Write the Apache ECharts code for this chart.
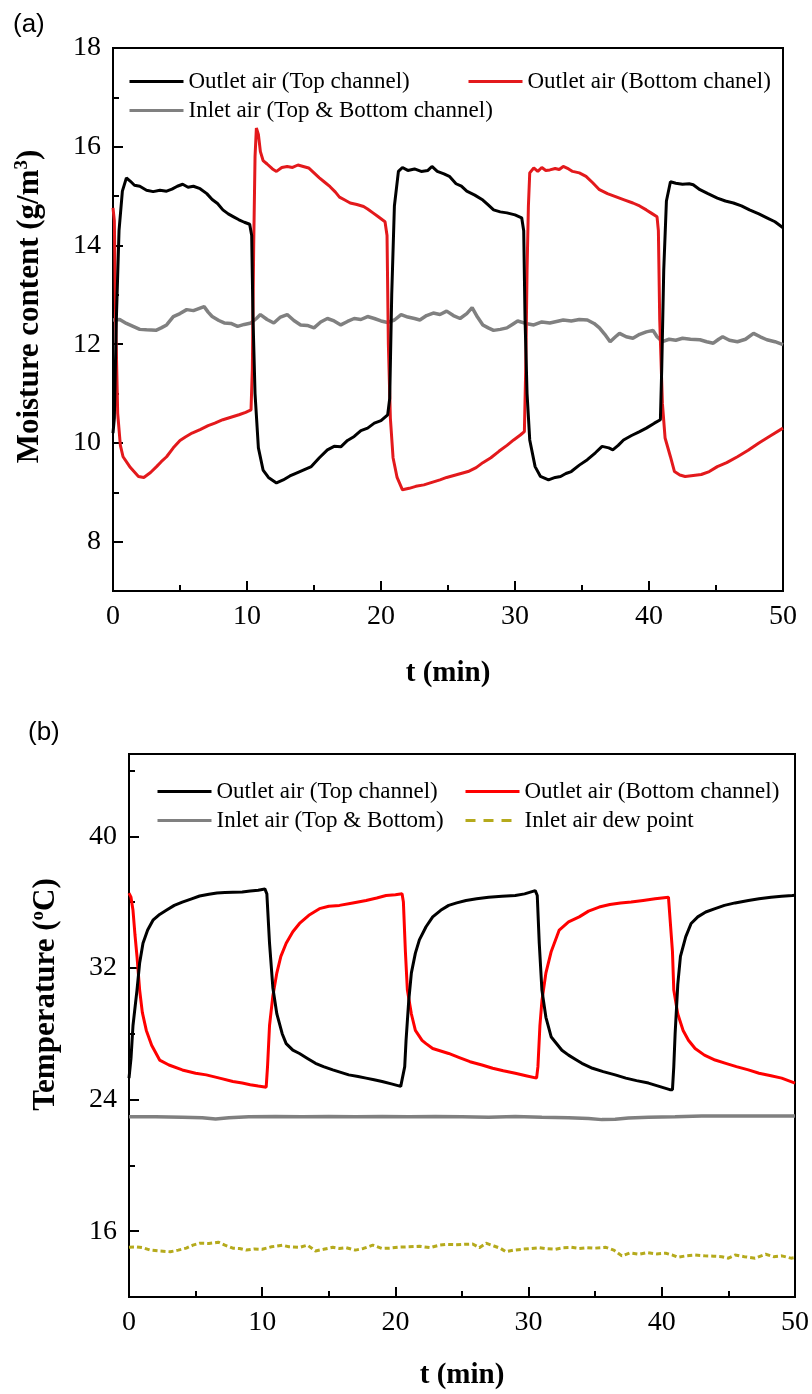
<!DOCTYPE html>
<html>
<head>
<meta charset="utf-8">
<title>Moisture content and temperature</title>
<script src="https://cdn.jsdelivr.net/npm/echarts@6/dist/echarts.min.js"></script>
<style>
  html, body { margin: 0; padding: 0; background: #fff; }
  #container { width: 812px; height: 1394px; }
</style>
</head>
<body>
<div id="container"></div>
<script>
//数据 (t in min, value)
//(a) moisture content, g/m3
var moistTop = [[0,10.2],[0.1,10.5],[0.25,12.5],[0.45,14.3],[0.7,15.1],[1.0,15.37],[1.3,15.3],[1.6,15.22],[2.0,15.2],[2.5,15.12],[3.0,15.09],[3.5,15.12],[4.0,15.1],[4.4,15.14],[4.8,15.2],[5.2,15.24],[5.6,15.18],[6.0,15.2],[6.5,15.15],[7.0,15.05],[7.4,14.93],[7.8,14.85],[8.2,14.72],[8.6,14.64],[9.0,14.58],[9.4,14.52],[9.8,14.47],[10.2,14.43],[10.35,14.2],[10.45,12.5],[10.6,11.0],[10.85,9.9],[11.2,9.45],[11.6,9.3],[12.2,9.19],[12.7,9.25],[13.2,9.33],[13.6,9.38],[14.2,9.45],[14.8,9.52],[15.4,9.7],[16.0,9.86],[16.5,9.93],[17.0,9.92],[17.5,10.05],[18.0,10.13],[18.5,10.25],[19.0,10.3],[19.5,10.4],[20.0,10.45],[20.5,10.57],[20.65,10.9],[20.8,13.0],[21.0,14.8],[21.3,15.5],[21.6,15.58],[22.0,15.52],[22.5,15.55],[23.0,15.5],[23.5,15.52],[23.8,15.6],[24.2,15.5],[24.7,15.45],[25.1,15.4],[25.6,15.25],[26.0,15.2],[26.4,15.1],[27.0,15.02],[27.6,14.92],[28.0,14.82],[28.4,14.72],[28.9,14.68],[29.4,14.66],[30.0,14.62],[30.5,14.56],[30.65,14.3],[30.75,12.5],[30.9,11.0],[31.1,10.06],[31.5,9.52],[31.9,9.32],[32.5,9.25],[33.0,9.3],[33.4,9.32],[33.8,9.38],[34.2,9.42],[34.8,9.55],[35.4,9.66],[36.0,9.8],[36.5,9.93],[37.0,9.9],[37.3,9.86],[37.7,9.95],[38.1,10.06],[38.7,10.15],[39.3,10.23],[39.8,10.3],[40.4,10.4],[40.85,10.47],[40.95,11.5],[41.1,13.5],[41.3,14.9],[41.6,15.29],[42.0,15.26],[42.5,15.24],[43.0,15.25],[43.3,15.23],[43.8,15.13],[44.4,15.05],[45.1,14.96],[45.7,14.9],[46.3,14.86],[46.9,14.8],[47.5,14.72],[48.2,14.64],[48.8,14.56],[49.4,14.48],[50.0,14.36]];
var moistBottom = [[0,14.76],[0.1,14.5],[0.2,12.5],[0.35,10.6],[0.55,9.95],[0.75,9.72],[1.3,9.5],[1.9,9.32],[2.3,9.3],[2.8,9.4],[3.25,9.52],[3.6,9.62],[4.0,9.72],[4.5,9.9],[5.0,10.05],[5.4,10.12],[5.9,10.2],[6.5,10.27],[7.1,10.35],[7.6,10.4],[8.2,10.47],[8.8,10.52],[9.4,10.57],[9.9,10.62],[10.3,10.67],[10.4,11.5],[10.5,14.0],[10.6,15.8],[10.7,16.38],[10.85,16.25],[11.0,15.9],[11.2,15.72],[11.5,15.65],[11.9,15.55],[12.2,15.5],[12.6,15.58],[13.0,15.6],[13.4,15.58],[13.8,15.63],[14.2,15.6],[14.6,15.57],[15.0,15.47],[15.4,15.37],[15.8,15.28],[16.2,15.19],[16.6,15.08],[16.9,14.98],[17.3,14.92],[17.7,14.86],[18.2,14.83],[18.7,14.79],[19.0,14.74],[19.4,14.66],[19.8,14.58],[20.3,14.48],[20.45,14.2],[20.55,12.0],[20.7,10.5],[20.9,9.7],[21.2,9.3],[21.6,9.05],[22.1,9.08],[22.6,9.12],[23.2,9.15],[23.8,9.2],[24.4,9.25],[24.9,9.3],[25.7,9.36],[26.5,9.42],[27.1,9.5],[27.6,9.6],[28.2,9.7],[28.8,9.83],[29.4,9.95],[29.9,10.06],[30.4,10.16],[30.7,10.23],[30.8,11.5],[30.9,13.5],[31.0,14.8],[31.1,15.47],[31.4,15.57],[31.7,15.5],[32.0,15.58],[32.3,15.52],[32.6,15.53],[33.0,15.56],[33.3,15.54],[33.6,15.6],[34.0,15.55],[34.3,15.5],[34.8,15.47],[35.3,15.4],[35.8,15.27],[36.3,15.13],[36.9,15.05],[37.6,14.98],[38.2,14.92],[38.8,14.86],[39.3,14.8],[39.8,14.72],[40.2,14.65],[40.6,14.58],[40.7,14.3],[40.8,12.5],[41.0,10.8],[41.2,10.1],[41.6,9.72],[41.9,9.42],[42.3,9.35],[42.7,9.32],[43.3,9.34],[43.9,9.36],[44.5,9.42],[45.1,9.52],[45.8,9.6],[46.6,9.72],[47.4,9.85],[48.2,10.0],[49.1,10.15],[50,10.3]];
var moistInlet = [[0,12.49],[0.5,12.5],[1.0,12.42],[1.5,12.36],[2.0,12.3],[2.5,12.29],[3.2,12.28],[3.6,12.33],[4.0,12.39],[4.5,12.56],[5.0,12.62],[5.5,12.7],[6.0,12.68],[6.4,12.72],[6.8,12.76],[7.1,12.65],[7.4,12.56],[7.9,12.48],[8.3,12.43],[8.8,12.42],[9.3,12.36],[9.8,12.4],[10.3,12.43],[10.7,12.52],[11.0,12.6],[11.5,12.5],[12.0,12.43],[12.5,12.55],[13.0,12.6],[13.5,12.48],[14.0,12.39],[14.5,12.38],[15.0,12.33],[15.5,12.45],[16.0,12.52],[16.5,12.47],[17.0,12.39],[17.5,12.46],[18.0,12.52],[18.5,12.5],[19.0,12.56],[19.5,12.52],[20.0,12.47],[20.5,12.44],[21.0,12.49],[21.5,12.6],[22.0,12.55],[22.5,12.52],[22.9,12.49],[23.4,12.58],[23.9,12.63],[24.4,12.6],[24.9,12.67],[25.4,12.58],[25.9,12.52],[26.4,12.62],[26.8,12.74],[27.2,12.55],[27.6,12.39],[28.0,12.33],[28.4,12.28],[28.9,12.3],[29.4,12.33],[29.8,12.4],[30.2,12.47],[30.8,12.42],[31.4,12.39],[32.0,12.45],[32.6,12.43],[33.1,12.46],[33.6,12.49],[34.2,12.47],[34.8,12.5],[35.4,12.49],[35.9,12.42],[36.3,12.33],[36.7,12.2],[37.1,12.05],[37.5,12.15],[37.8,12.22],[38.3,12.15],[38.8,12.12],[39.3,12.2],[39.8,12.25],[40.3,12.28],[40.6,12.15],[41.0,12.05],[41.5,12.1],[42.0,12.08],[42.5,12.12],[43.1,12.1],[43.8,12.09],[44.3,12.05],[44.8,12.02],[45.2,12.1],[45.5,12.15],[46.0,12.08],[46.6,12.05],[47.2,12.1],[47.8,12.22],[48.3,12.15],[48.8,12.09],[49.4,12.05],[50,11.99]];

//(b) temperature, oC
var tempTop = [[0,25.3],[0.15,26.5],[0.3,28.5],[0.6,30.65],[0.8,32.3],[1.05,33.5],[1.4,34.3],[1.8,34.9],[2.3,35.25],[2.8,35.5],[3.4,35.8],[4.0,36.0],[4.7,36.2],[5.3,36.37],[6.0,36.48],[6.6,36.55],[7.2,36.58],[7.8,36.6],[8.5,36.62],[9.1,36.67],[9.7,36.72],[10.2,36.8],[10.35,36.5],[10.55,33.5],[10.8,30.8],[11.1,29.2],[11.5,28.0],[11.8,27.4],[12.3,27.0],[12.8,26.8],[13.4,26.5],[14.0,26.2],[14.6,26.0],[15.3,25.8],[15.9,25.65],[16.5,25.5],[17.2,25.4],[17.8,25.3],[18.4,25.2],[19.0,25.1],[19.7,24.95],[20.4,24.8],[20.55,24.8],[20.7,26.0],[20.8,27.6],[21.0,30.0],[21.2,31.7],[21.5,32.9],[21.8,33.7],[22.3,34.5],[22.8,35.1],[23.4,35.5],[24.0,35.8],[24.6,35.95],[25.3,36.1],[26.1,36.2],[27.0,36.3],[28.0,36.35],[29.0,36.4],[29.7,36.5],[30.5,36.7],[30.65,36.4],[30.8,33.5],[31.0,30.65],[31.3,29.0],[31.7,27.8],[32.0,27.5],[32.5,27.0],[33.0,26.7],[33.5,26.45],[34.0,26.2],[34.8,25.9],[35.6,25.7],[36.5,25.5],[37.3,25.3],[38.1,25.15],[39.0,25.0],[39.8,24.8],[40.6,24.6],[40.8,24.6],[40.9,26.0],[41.0,28.0],[41.2,31.0],[41.4,32.7],[41.8,33.9],[42.2,34.7],[42.7,35.1],[43.3,35.4],[44.0,35.6],[44.7,35.8],[45.5,35.95],[46.5,36.1],[47.3,36.2],[48.2,36.3],[49.0,36.35],[49.8,36.4],[50,36.42]];
var tempBottom = [[0,36.55],[0.15,36.3],[0.3,35.5],[0.45,34.0],[0.6,32.7],[0.8,30.65],[1.0,29.3],[1.3,28.2],[1.7,27.3],[2.3,26.4],[3.0,26.1],[4.0,25.8],[5.0,25.6],[5.8,25.5],[6.8,25.3],[7.8,25.1],[8.5,25.0],[9.1,24.9],[9.7,24.82],[10.3,24.75],[10.4,26.0],[10.55,28.5],[10.8,30.3],[11.1,31.7],[11.4,32.7],[11.8,33.5],[12.3,34.2],[12.8,34.7],[13.5,35.2],[14.3,35.6],[15.0,35.75],[15.8,35.8],[16.8,35.95],[17.8,36.1],[18.6,36.25],[19.3,36.4],[20.0,36.45],[20.5,36.5],[20.6,36.0],[20.75,33.0],[20.9,30.65],[21.2,29.2],[21.5,28.2],[22.0,27.6],[22.3,27.4],[22.8,27.1],[23.4,26.95],[24.0,26.8],[24.8,26.55],[25.6,26.3],[26.5,26.1],[27.3,25.9],[28.1,25.75],[29.0,25.6],[29.8,25.45],[30.6,25.3],[30.7,26.0],[30.85,28.5],[31.0,30.0],[31.3,31.7],[31.7,33.0],[32.3,34.3],[33.0,34.8],[33.8,35.1],[34.5,35.45],[35.3,35.7],[36.1,35.85],[36.9,35.95],[37.7,36.0],[38.6,36.1],[39.5,36.2],[40.5,36.3],[40.65,36.2],[40.8,33.0],[40.9,30.65],[41.2,29.2],[41.6,28.2],[42.0,27.6],[42.5,27.1],[43.2,26.7],[44.0,26.4],[44.8,26.2],[45.6,26.0],[46.5,25.8],[47.3,25.6],[48.2,25.45],[49.0,25.3],[49.5,25.15],[50,25.0]];
var tempInlet = [[0,22.95],[2,22.95],[4,22.93],[5.5,22.9],[6.5,22.82],[7.5,22.9],[9,22.95],[11,22.97],[13,22.95],[15,22.97],[17,22.95],[19,22.97],[21,22.95],[23,22.97],[25,22.95],[27,22.93],[29,22.97],[31,22.93],[33,22.9],[34.5,22.85],[35.5,22.78],[36.5,22.8],[37.5,22.88],[39,22.93],[41,22.95],[43,23.0],[45,23.0],[47,23.0],[49,23.0],[50,23.0]];
var tempDew = [[0,15.03],[0.5,15.05],[1.0,15.0],[1.6,14.85],[2.2,14.8],[3.1,14.75],[3.7,14.85],[4.3,14.97],[4.8,15.15],[5.3,15.27],[6.0,15.25],[6.7,15.33],[7.2,15.15],[7.8,14.97],[8.3,14.95],[8.8,14.85],[9.4,14.92],[10.0,14.9],[10.7,15.05],[11.5,15.15],[12.0,15.05],[12.8,15.02],[13.4,15.15],[14.0,14.8],[14.6,14.9],[15.3,15.02],[15.8,14.95],[16.3,15.0],[17.0,14.85],[17.6,14.95],[18.3,15.15],[19.0,14.95],[19.6,14.97],[20.3,15.03],[21.0,15.05],[21.8,15.08],[22.6,15.0],[23.3,15.15],[23.8,15.2],[24.5,15.18],[25.2,15.2],[25.8,15.22],[26.3,15.0],[26.8,15.27],[27.4,15.1],[27.9,14.95],[28.3,14.75],[28.9,14.85],[29.5,14.9],[30.2,14.95],[30.8,15.0],[31.4,14.93],[32.0,14.9],[32.6,15.0],[33.2,15.02],[33.8,14.95],[34.4,15.0],[35.0,14.97],[35.8,15.02],[36.4,14.85],[37.0,14.5],[37.6,14.68],[38.3,14.6],[38.9,14.7],[39.6,14.62],[40.3,14.66],[40.8,14.55],[41.2,14.42],[41.8,14.5],[42.5,14.55],[43.2,14.5],[43.9,14.48],[44.5,14.45],[45.0,14.36],[45.5,14.55],[46.2,14.45],[47.0,14.36],[47.8,14.6],[48.4,14.45],[49.0,14.5],[49.7,14.36],[50,14.4]];

//刻度
var xTicks = [0, 10, 20, 30, 40, 50];
var moistMajor = [8, 10, 12, 14, 16, 18];
var moistMinor = [9, 11, 13, 15, 17];
var tempMajor = [16, 24, 32, 40];
var tempMinor = [20, 28, 36, 44];

//图例名称
var nameTop = 'Outlet air (Top channel)';
var nameBotA = 'Outlet air (Bottom chanel)';
var nameInA = 'Inlet air (Top & Bottom channel)';
var nameBotB = 'Outlet air (Bottom channel)';
var nameInB = 'Inlet air (Top & Bottom)';
var nameDew = 'Inlet air dew point';

var serif = 'Liberation Serif';

var dom = document.getElementById('container');
var myChart = echarts.init(dom, null, { renderer: 'canvas' });

function xAxisOf(grid, gap) {
  return {
    type: 'value', gridIndex: grid, min: xTicks[0], max: xTicks[xTicks.length - 1], interval: 10,
    name: 't (min)', nameLocation: 'middle', nameGap: gap,
    nameTextStyle: { fontFamily: serif, fontSize: 29, fontWeight: 'bold', color: '#000' },
    axisLine: { show: true, onZero: false, lineStyle: { color: '#000', width: 2 } },
    axisTick: { show: true, inside: true, length: 10, lineStyle: { color: '#000', width: 2 } },
    minorTick: { show: true, splitNumber: 2, length: 6, lineStyle: { color: '#000', width: 2 } },
    axisLabel: { fontFamily: serif, fontSize: 28, color: '#000', margin: 12 },
    splitLine: { show: false }
  };
}

function yMajor(grid, min, max, ticks, name, gap, pad) {
  return {
    type: 'value', gridIndex: grid, min: min, max: max, position: 'left',
    name: name, nameLocation: 'middle', nameGap: gap, nameRotate: 90,
    nameTextStyle: {
      padding: pad,
      rich: {
        a: { fontFamily: serif, fontSize: 31, fontWeight: 'bold', color: '#000', lineHeight: 34 },
        s: { fontFamily: serif, fontSize: 19, fontWeight: 'bold', color: '#000', lineHeight: 19, verticalAlign: 'top' }
      }
    },
    axisLine: { show: true, onZero: false, lineStyle: { color: '#000', width: 2 } },
    axisTick: { show: true, inside: true, length: 10, customValues: ticks, lineStyle: { color: '#000', width: 2 } },
    axisLabel: { fontFamily: serif, fontSize: 28, color: '#000', margin: 12, customValues: ticks },
    splitLine: { show: false }
  };
}

function yMinor(grid, min, max, ticks) {
  return {
    type: 'value', gridIndex: grid, min: min, max: max, position: 'left',
    axisLine: { show: false },
    axisTick: { show: true, inside: true, length: 6, customValues: ticks, lineStyle: { color: '#000', width: 2 } },
    axisLabel: { show: false },
    splitLine: { show: false }
  };
}

function lineOf(name, data, xi, yi, color, width, type) {
  return {
    name: name, type: 'line', data: data, xAxisIndex: xi, yAxisIndex: yi,
    showSymbol: false, symbol: 'none', smooth: false, animation: false,
    lineStyle: { color: color, width: width, type: type || 'solid' },
    itemStyle: { color: color }
  };
}

//图例：只画线，不画圆点
function legendOf(name, left, top, dash) {
  var lg = {
    data: [name], left: left, top: top, padding: 0,
    itemWidth: 54, itemHeight: 14, itemGap: 0, selectedMode: false,
    itemStyle: { color: 'rgba(0,0,0,0)', borderColor: 'rgba(0,0,0,0)', borderWidth: 0, opacity: 0 },
    lineStyle: { width: 3 },
    textStyle: { fontFamily: serif, fontSize: 23, color: '#000' }
  };
  if (dash) lg.lineStyle.type = dash;
  return lg;
}

var option = {
  backgroundColor: '#fff',
  animation: false,
  grid: [
    { left: 113, top: 48, width: 670, height: 543, show: true, borderColor: '#000', borderWidth: 2, backgroundColor: 'transparent' },
    { left: 129, top: 754, width: 668, height: 543, show: true, borderColor: '#000', borderWidth: 2, backgroundColor: 'transparent' }
  ],
  xAxis: [xAxisOf(0, 68), xAxisOf(1, 64)],
  yAxis: [
    yMajor(0, 7, 18, moistMajor, '{a|Moisture content (g/m}{s|3}{a|)}', 66, [0, 0, 0, 26]),
    yMinor(0, 7, 18, moistMinor),
    yMajor(1, 12, 45, tempMajor, '{a|Temperature (}{s|o}{a|C)}', 66, [0, 0, 0, 62]),
    yMinor(1, 12, 45, tempMinor)
  ],
  legend: [
    legendOf(nameTop, 128, 70),
    legendOf(nameBotA, 467, 70),
    legendOf(nameInA, 128, 99),
    legendOf(nameTop, 156, 780),
    legendOf(nameBotB, 464, 780),
    legendOf(nameInB, 156, 809),
    legendOf(nameDew, 464, 809, [10, 8])
  ],
  graphic: [
    { type: 'text', left: 13, top: 12, style: { text: '(a)', font: '26px "Liberation Sans"', fill: '#000' } },
    { type: 'text', left: 28, top: 720, style: { text: '(b)', font: '26px "Liberation Sans"', fill: '#000' } }
  ],
  series: [
    lineOf(nameInA, moistInlet, 0, 0, '#808080', 3.5),
    lineOf(nameBotA, moistBottom, 0, 0, '#e3191c', 3),
    lineOf(nameTop, moistTop, 0, 0, '#000000', 3),
    lineOf(nameInB, tempInlet, 1, 2, '#808080', 3.5),
    lineOf(nameDew, tempDew, 1, 2, '#b5aa1c', 3, [5, 3]),
    lineOf(nameBotB, tempBottom, 1, 2, '#ff0000', 3),
    lineOf(nameTop, tempTop, 1, 2, '#000000', 3)
  ]
};

if (option && typeof option === 'object') {
  myChart.setOption(option);
}

window.addEventListener('resize', myChart.resize);
</script>
</body>
</html>
